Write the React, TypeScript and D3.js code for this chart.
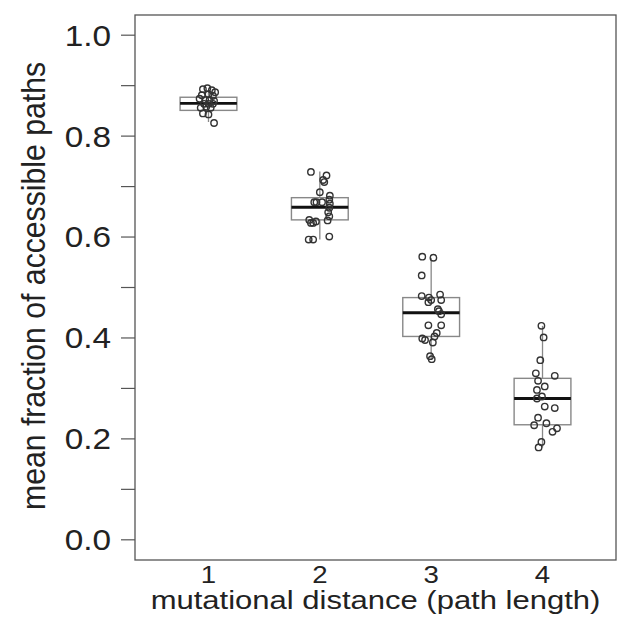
import React, { useEffect, useRef } from "react";
import * as d3 from "d3";

// box stats per path length
const groups = [1, 2, 3, 4];
const whiskerLo = [0.828, 0.595, 0.358, 0.183];
const q1 = [0.851, 0.634, 0.403, 0.228];
const median = [0.865, 0.659, 0.45, 0.28];
const q3 = [0.877, 0.678, 0.48, 0.32];
const whiskerHi = [0.889, 0.73, 0.559, 0.424];

// jittered points: group, x offset (in group units), value
const ptGroup = [
  1, 1, 1, 1, 1, 1, 1, 1, 1, 1, 1, 1, 1, 1, 1, 1, 1, 1, 1, 1,
  2, 2, 2, 2, 2, 2, 2, 2, 2, 2, 2, 2, 2, 2, 2, 2, 2, 2, 2, 2, 2, 2,
  3, 3, 3, 3, 3, 3, 3, 3, 3, 3, 3, 3, 3, 3, 3, 3, 3, 3, 3, 3, 3,
  4, 4, 4, 4, 4, 4, 4, 4, 4, 4, 4, 4, 4, 4, 4, 4, 4, 4, 4,
];
const ptJitter = [
  -0.05, -0.01, 0.03, 0.06, -0.06, 0.0, 0.04, -0.08, -0.03, 0.01, 0.05, -0.04, 0.0, 0.04, -0.07, -0.02, 0.02, -0.05, 0.0, 0.05,
  -0.08, 0.06, 0.03, 0.04, -0.0, 0.09, -0.05, -0.03, 0.02, 0.085, 0.09, 0.085, 0.075, 0.085, 0.07, -0.095, -0.08, -0.06, -0.035, -0.1, -0.06, 0.085,
  -0.08, 0.02, -0.085, -0.085, -0.02, 0.0, -0.025, 0.08, 0.09, 0.06, 0.07, 0.09, -0.025, 0.09, 0.05, 0.03, -0.08, -0.055, 0.015, -0.01, 0.005,
  -0.01, 0.01, -0.02, -0.06, 0.11, -0.04, 0.02, -0.05, -0.005, -0.05, 0.02, 0.11, -0.04, -0.075, 0.035, 0.13, 0.09, -0.01, -0.035,
];
const ptValue = [
  0.893, 0.895, 0.891, 0.887, 0.881, 0.883, 0.88, 0.874, 0.872, 0.872, 0.87, 0.864, 0.864, 0.864, 0.856, 0.858, 0.856, 0.845, 0.843, 0.826,
  0.729, 0.722, 0.713, 0.709, 0.689, 0.682, 0.669, 0.669, 0.669, 0.674, 0.666, 0.658, 0.649, 0.641, 0.633, 0.634, 0.628, 0.628, 0.631, 0.595, 0.595, 0.601,
  0.561, 0.559, 0.524, 0.483, 0.48, 0.475, 0.471, 0.486, 0.475, 0.457, 0.453, 0.447, 0.425, 0.425, 0.41, 0.403, 0.399, 0.396, 0.391, 0.364, 0.358,
  0.424, 0.401, 0.356, 0.33, 0.325, 0.315, 0.304, 0.297, 0.284, 0.28, 0.264, 0.261, 0.242, 0.227, 0.231, 0.221, 0.214, 0.194, 0.183,
];

const yTicks = [0, 0.1, 0.2, 0.3, 0.4, 0.5, 0.6, 0.7, 0.8, 0.9, 1.0];
const yLabels = ["0.0", "0.2", "0.4", "0.6", "0.8", "1.0"];
const xLabel = "mutational distance (path length)";
const yLabel = "mean fraction of accessible paths";

export default function App() {
  const ref = useRef<SVGSVGElement>(null);

  useEffect(() => {
    const svg = d3.select(ref.current);
    svg.selectAll("*").remove();

    const font = "'Liberation Sans', Arial, Helvetica, sans-serif";
    const left = 135;
    const right = 616;
    const top = 15;
    const bottom = 560;
    // the source figure is a bit stretched sideways, so text is too
    const stretch = 1.15;

    const x = d3.scaleLinear().domain([0.34, 4.66]).range([left, right]);
    const y = d3.scaleLinear().domain([-0.04, 1.04]).range([bottom, top]);
    const boxW = x(0.51) - x(0);

    // FRAME
    svg
      .append("rect")
      .attr("x", left)
      .attr("y", top)
      .attr("width", right - left)
      .attr("height", bottom - top)
      .attr("fill", "none")
      .attr("stroke", "#555")
      .attr("stroke-width", 1.3);

    // Y AXIS
    const yAxis = svg.append("g");
    yAxis
      .selectAll("line")
      .data(yTicks)
      .join("line")
      .attr("x1", left - 14)
      .attr("x2", left)
      .attr("y1", (d) => y(d))
      .attr("y2", (d) => y(d))
      .attr("stroke", "#555")
      .attr("stroke-width", 1.2);
    yAxis
      .selectAll("text")
      .data(yLabels)
      .join("text")
      .attr("transform", (d) => `translate(111,${y(+d)}) scale(${stretch},1)`)
      .attr("dy", "0.36em")
      .attr("text-anchor", "end")
      .attr("font-family", font)
      .attr("font-size", 29)
      .attr("fill", "#222")
      .text((d) => d);

    // X LABELS
    svg
      .append("g")
      .selectAll("text")
      .data(groups)
      .join("text")
      .attr("transform", (d) => `translate(${x(d)},583) scale(${stretch},1)`)
      .attr("text-anchor", "middle")
      .attr("font-family", font)
      .attr("font-size", 24)
      .attr("fill", "#222")
      .text((d) => String(d));

    svg
      .append("text")
      .attr("transform", `translate(${(left + right) / 2},609) scale(1.17,1)`)
      .attr("text-anchor", "middle")
      .attr("font-family", font)
      .attr("font-size", 26.5)
      .attr("fill", "#222")
      .text(xLabel);

    svg
      .append("text")
      .attr("transform", `translate(45,286) scale(1.1,1) rotate(-90)`)
      .attr("text-anchor", "middle")
      .attr("font-family", font)
      .attr("font-size", 30.2)
      .attr("fill", "#222")
      .text(yLabel);

    // BOXES
    const boxes = svg.append("g");
    groups.forEach((g, i) => {
      const cx = x(g);
      const gg = boxes.append("g");
      gg.append("line")
        .attr("x1", cx).attr("x2", cx)
        .attr("y1", y(whiskerHi[i])).attr("y2", y(q3[i]))
        .attr("stroke", "#888").attr("stroke-width", 1.3);
      gg.append("line")
        .attr("x1", cx).attr("x2", cx)
        .attr("y1", y(q1[i])).attr("y2", y(whiskerLo[i]))
        .attr("stroke", "#888").attr("stroke-width", 1.3);
      gg.append("rect")
        .attr("x", cx - boxW / 2)
        .attr("y", y(q3[i]))
        .attr("width", boxW)
        .attr("height", y(q1[i]) - y(q3[i]))
        .attr("fill", "none")
        .attr("stroke", "#888")
        .attr("stroke-width", 1.4);
      gg.append("line")
        .attr("x1", cx - boxW / 2).attr("x2", cx + boxW / 2)
        .attr("y1", y(median[i])).attr("y2", y(median[i]))
        .attr("stroke", "#111").attr("stroke-width", 2.8);
    });

    // POINTS
    svg
      .append("g")
      .selectAll("circle")
      .data(ptValue.map((v, i) => ({ g: ptGroup[i], j: ptJitter[i], v })))
      .join("circle")
      .attr("cx", (d) => x(d.g + d.j))
      .attr("cy", (d) => y(d.v))
      .attr("r", 3.2)
      .attr("fill", "none")
      .attr("stroke", "#333")
      .attr("stroke-width", 1.4);
  }, []);

  return (
    <svg
      ref={ref}
      width={619}
      height={617}
      style={{ position: "absolute", left: 0, top: 0, background: "#fff" }}
    />
  );
}
